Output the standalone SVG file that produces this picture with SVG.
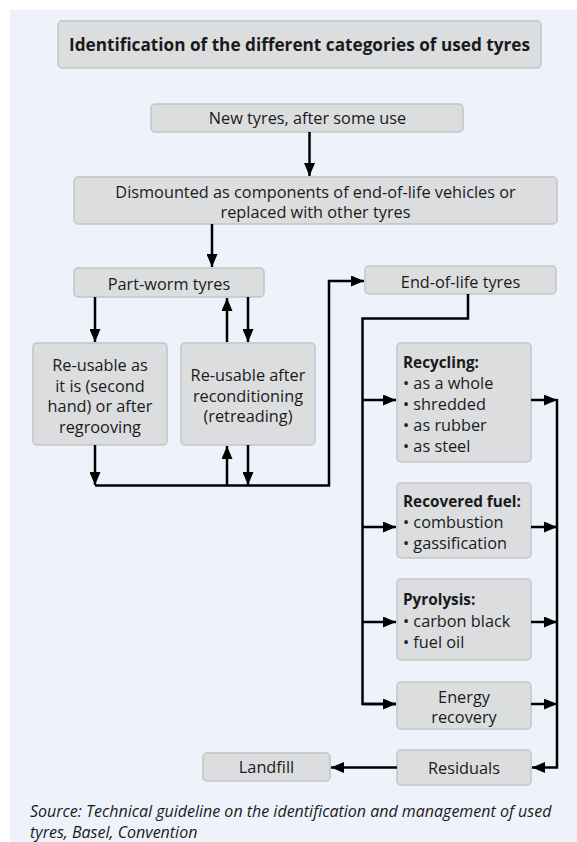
<svg xmlns="http://www.w3.org/2000/svg" width="577" height="842" viewBox="0 0 577 842">
  <style>
    .box { fill: #dcdddf; stroke: #c3c4c6; stroke-width: 1.5; }
    .t { font-family: "Open Sans", "Noto Sans", sans-serif; font-size: 16.3px; fill: #1a1a1a; }
    .c { text-anchor: middle; }
    .b { font-weight: bold; font-size: 15.3px; }
    .ttl { font-family: "Open Sans", "Noto Sans", sans-serif; font-size: 17.2px; font-weight: bold; fill: #1a1a1a; text-anchor: middle; }
    .src { font-family: "Open Sans", "Noto Sans", sans-serif; font-size: 16px; font-style: italic; fill: #1a1a1a; }
    .ln { fill: none; stroke: #000; stroke-width: 2.5; }
    .ar { marker-end: url(#head); }
  </style>
  <defs>
    <marker id="head" markerUnits="userSpaceOnUse" markerWidth="13" markerHeight="11" refX="13" refY="5.5" orient="auto">
      <path d="M0,0 L13,5.5 L0,11 z" fill="#000"/>
    </marker>
  </defs>

  <!-- panel background -->
  <rect x="10" y="10" width="567" height="832" fill="#eef3fb"/>

  <g id="title">
    <rect class="box" x="58" y="21" width="483" height="47" rx="4"/>
    <text class="ttl" x="299.5" y="50.5">Identification of the different categories of used tyres</text>
  </g>

  <g id="new-tyres">
    <rect class="box" x="151" y="104" width="312" height="28" rx="4"/>
    <text class="t c" x="307.5" y="124">New tyres, after some use</text>
  </g>

  <g id="dismounted">
    <rect class="box" x="74" y="177" width="483" height="47" rx="4"/>
    <text class="t c" x="315.5" y="198">Dismounted as components of end-of-life vehicles or</text>
    <text class="t c" x="315.5" y="218">replaced with other tyres</text>
  </g>

  <g id="part-worn">
    <rect class="box" x="74" y="268" width="190" height="29" rx="4"/>
    <text class="t c" x="169" y="290">Part-worm tyres</text>
  </g>

  <g id="end-of-life">
    <rect class="box" x="365" y="266" width="191" height="28" rx="4"/>
    <text class="t c" x="460.5" y="288">End-of-life tyres</text>
  </g>

  <g id="reusable-as-is">
    <rect class="box" x="33" y="343" width="134" height="102" rx="4"/>
    <text class="t c" x="100" y="371">Re-usable as</text>
    <text class="t c" x="100" y="391.5">it is (second</text>
    <text class="t c" x="100" y="412">hand) or after</text>
    <text class="t c" x="100" y="432.5">regrooving</text>
  </g>

  <g id="reusable-reconditioned">
    <rect class="box" x="181" y="343" width="134" height="102" rx="4"/>
    <text class="t c" x="248" y="381">Re-usable after</text>
    <text class="t c" x="248" y="401.5">reconditioning</text>
    <text class="t c" x="248" y="422">(retreading)</text>
  </g>

  <g id="recycling">
    <rect class="box" x="397" y="343" width="134" height="119" rx="4"/>
    <text class="t b" x="403" y="367.5">Recycling:</text>
    <text class="t" x="403" y="389">• as a whole</text>
    <text class="t" x="403" y="410">• shredded</text>
    <text class="t" x="403" y="431">• as rubber</text>
    <text class="t" x="403" y="452">• as steel</text>
  </g>

  <g id="recovered-fuel">
    <rect class="box" x="397" y="483" width="134" height="75" rx="4"/>
    <text class="t b" x="403" y="506.5">Recovered fuel:</text>
    <text class="t" x="403" y="528">• combustion</text>
    <text class="t" x="403" y="549">• gassification</text>
  </g>

  <g id="pyrolysis">
    <rect class="box" x="397" y="579" width="134" height="81" rx="4"/>
    <text class="t b" x="403" y="604.5">Pyrolysis:</text>
    <text class="t" x="403" y="627">• carbon black</text>
    <text class="t" x="403" y="648">• fuel oil</text>
  </g>

  <g id="energy-recovery">
    <rect class="box" x="397" y="682" width="134" height="47" rx="4"/>
    <text class="t c" x="464" y="702.5">Energy</text>
    <text class="t c" x="464" y="722.5">recovery</text>
  </g>

  <g id="residuals">
    <rect class="box" x="397" y="750" width="134" height="35" rx="4"/>
    <text class="t c" x="464" y="774">Residuals</text>
  </g>

  <g id="landfill">
    <rect class="box" x="203" y="753" width="127" height="28" rx="4"/>
    <text class="t c" x="266.5" y="773">Landfill</text>
  </g>

  <g id="connectors">
    <!-- main vertical chain -->
    <line class="ln ar" x1="309.5" y1="132" x2="309.5" y2="176"/>
    <line class="ln ar" x1="212" y1="224" x2="212" y2="267"/>
    <!-- part-worn tyres to the two re-use options and back -->
    <line class="ln ar" x1="95" y1="297" x2="95" y2="342"/>
    <line class="ln ar" x1="227" y1="342" x2="227" y2="298"/>
    <line class="ln ar" x1="248" y1="297" x2="248" y2="342"/>
    <!-- re-use options to the collector line -->
    <line class="ln ar" x1="95" y1="445" x2="95" y2="485"/>
    <line class="ln ar" x1="227" y1="485" x2="227" y2="446"/>
    <line class="ln ar" x1="248" y1="445" x2="248" y2="485"/>
    <polyline class="ln ar" points="95,485.5 329,485.5 329,281 364,281"/>
    <!-- end-of-life tyres to treatment routes -->
    <polyline class="ln" points="468,294 468,318.5 362.5,318.5 362.5,704 396,704"/>
    <line class="ln ar" x1="362.5" y1="704" x2="396" y2="704"/>
    <line class="ln ar" x1="362.5" y1="400" x2="396" y2="400"/>
    <line class="ln ar" x1="362.5" y1="527" x2="396" y2="527"/>
    <line class="ln ar" x1="362.5" y1="622" x2="396" y2="622"/>
    <!-- treatment routes to residuals -->
    <line class="ln ar" x1="531" y1="400" x2="557" y2="400"/>
    <line class="ln ar" x1="531" y1="527" x2="557" y2="527"/>
    <line class="ln ar" x1="531" y1="622" x2="557" y2="622"/>
    <line class="ln ar" x1="531" y1="704" x2="557" y2="704"/>
    <polyline class="ln ar" points="557,399 557,767.5 532,767.5"/>
    <line class="ln ar" x1="397" y1="767.5" x2="331" y2="767.5"/>
  </g>

  <text class="src" x="30" y="817">Source: Technical guideline on the identification and management of used</text>
  <text class="src" x="30" y="837.5">tyres, Basel, Convention</text>
</svg>
